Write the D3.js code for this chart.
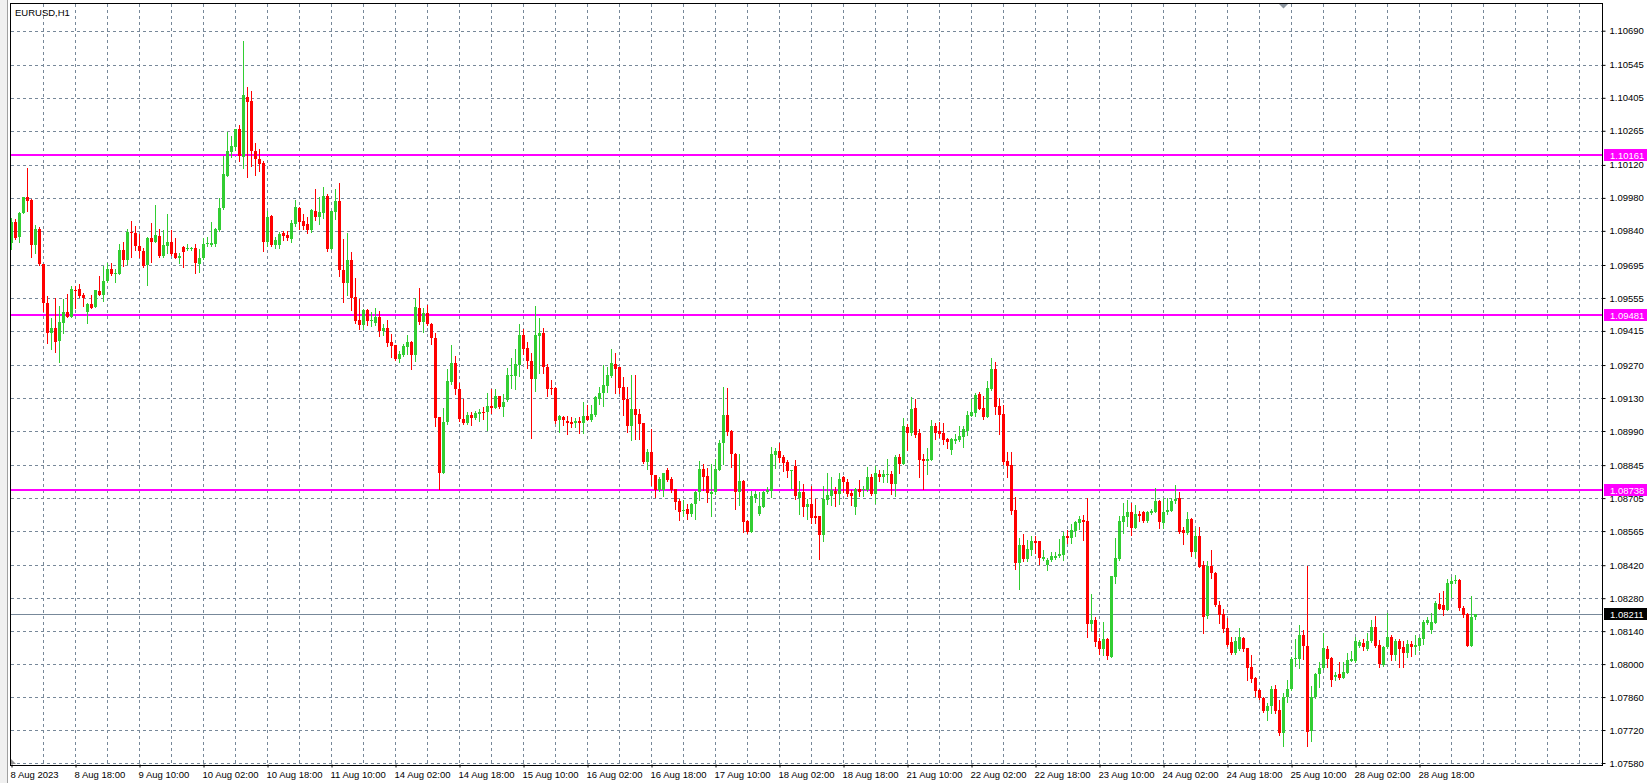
<!DOCTYPE html>
<html><head><meta charset="utf-8">
<script src="https://cdn.jsdelivr.net/npm/d3@7/dist/d3.min.js"></script>
<style>
body{margin:0;background:#fff;}
svg{display:block;}
text{font-family:"Liberation Sans",Arial,sans-serif;font-size:9.5px;}
</style>
</head><body>
<svg id="c" width="1647" height="783"></svg>
<script>
const symbolTitle = "EURUSD,H1";
const timeLabels = ["8 Aug 2023","8 Aug 18:00","9 Aug 10:00","10 Aug 02:00","10 Aug 18:00","11 Aug 10:00","14 Aug 02:00","14 Aug 18:00","15 Aug 10:00","16 Aug 02:00","16 Aug 18:00","17 Aug 10:00","18 Aug 02:00","18 Aug 18:00","21 Aug 10:00","22 Aug 02:00","22 Aug 18:00","23 Aug 10:00","24 Aug 02:00","24 Aug 18:00","25 Aug 10:00","28 Aug 02:00","28 Aug 18:00"];
const priceTicks = ["1.10690","1.10545","1.10405","1.10265","1.10120","1.09980","1.09840","1.09695","1.09555","1.09415","1.09270","1.09130","1.08990","1.08845","1.08705","1.08565","1.08420","1.08280","1.08140","1.08000","1.07860","1.07720","1.07580"];
const levelLines = [1.10161, 1.09481, 1.08738];
const bidPrice = 1.08211;

const opens = [
1.09787,1.09879,1.09812,1.09917,1.09982,1.09971,1.09780,1.09846,1.09698,1.09532,
1.09405,1.09426,1.09374,1.09450,1.09494,1.09476,1.09589,1.09592,1.09568,1.09497,
1.09529,1.09515,1.09585,1.09568,1.09627,1.09677,1.09657,1.09657,1.09759,1.09716,
1.09837,1.09829,1.09777,1.09755,1.09695,1.09810,1.09794,1.09818,1.09733,1.09777,
1.09794,1.09745,1.09726,1.09773,1.09762,1.09763,1.09769,1.09699,1.09723,1.09783,
1.09780,1.09784,1.09844,1.09936,1.10074,1.10176,1.10197,1.10272,1.10155,1.10407,
1.10391,1.10180,1.10145,1.10127,1.09794,1.09903,1.09780,1.09780,1.09829,1.09822,
1.09805,1.09869,1.09936,1.09882,1.09869,1.09844,1.09924,1.09900,1.09917,1.09988,
1.09763,1.09921,1.09967,1.09674,1.09620,1.09716,1.09558,1.09462,1.09440,1.09504,
1.09459,1.09447,1.09476,1.09416,1.09429,1.09370,1.09355,1.09296,1.09313,1.09348,
1.09367,1.09313,1.09511,1.09454,1.09490,1.09445,1.09384,1.09048,1.08811,1.09027,
1.09200,1.09278,1.09167,1.09040,1.09023,1.09057,1.09047,1.09064,1.09070,1.09070,
1.09096,1.09089,1.09139,1.09094,1.09122,1.09224,1.09225,1.09270,1.09398,1.09344,
1.09287,1.09211,1.09395,1.09408,1.09263,1.09173,1.09173,1.09037,1.09051,1.09033,
1.09029,1.09023,1.09034,1.09026,1.09054,1.09037,1.09058,1.09126,1.09153,1.09183,
1.09225,1.09275,1.09261,1.09176,1.09126,1.09013,1.09084,1.09062,1.09023,1.08857,
1.08900,1.08804,1.08740,1.08740,1.08825,1.08786,1.08743,1.08693,1.08651,1.08659,
1.08637,1.08679,1.08729,1.08828,1.08799,1.08721,1.08729,1.08825,1.08938,1.09058,
1.08992,1.08893,1.08733,1.08778,1.08608,1.08563,1.08707,1.08637,1.08669,1.08729,
1.08736,1.08888,1.08907,1.08881,1.08860,1.08818,1.08842,1.08707,1.08729,1.08669,
1.08680,1.08631,1.08627,1.08549,1.08697,1.08714,1.08737,1.08723,1.08794,1.08775,
1.08726,1.08669,1.08744,1.08740,1.08740,1.08796,1.08723,1.08808,1.08796,1.08804,
1.08808,1.08765,1.08881,1.08850,1.09006,1.08980,1.09087,1.08980,1.08871,1.08864,
1.08867,1.09012,1.08992,1.08980,1.08956,1.08910,1.08948,1.08952,1.08966,1.08992,
1.09055,1.09068,1.09147,1.09087,1.09051,1.09169,1.09254,1.09096,1.09062,1.08863,
1.08846,1.08655,1.08431,1.08506,1.08447,1.08485,1.08521,1.08521,1.08447,1.08419,
1.08440,1.08450,1.08457,1.08464,1.08545,1.08537,1.08567,1.08598,1.08612,1.08608,
1.08171,1.08188,1.08096,1.08065,1.08107,1.08032,1.08372,1.08447,1.08605,1.08624,
1.08644,1.08580,1.08637,1.08644,1.08608,1.08641,1.08645,1.08693,1.08601,1.08644,
1.08652,1.08693,1.08707,1.08570,1.08556,1.08615,1.08478,1.08545,1.08422,1.08206,
1.08417,1.08386,1.08252,1.08212,1.08153,1.08093,1.08046,1.08065,1.08110,1.08068,
1.07987,1.07940,1.07888,1.07855,1.07799,1.07820,1.07894,1.07806,1.07707,1.07860,
1.07894,1.08021,1.08022,1.08124,1.08078,1.07714,1.07860,1.07959,1.07983,1.08065,
1.08028,1.07947,1.07959,1.07943,1.07964,1.08015,1.08015,1.08079,1.08089,1.08065,
1.08096,1.08157,1.08082,1.07997,1.08072,1.08114,1.08037,1.08099,1.08072,1.08049,
1.08085,1.08072,1.08078,1.08107,1.08174,1.08143,1.08174,1.08254,1.08252,1.08230,
1.08341,1.08351,1.08358,1.08238,1.08212,1.08078,1.08199];

const highs = [
1.09893,1.09889,1.09921,1.09985,1.10105,1.09974,1.09863,1.09858,1.09698,1.09563,
1.09469,1.09556,1.09521,1.09549,1.09572,1.09607,1.09606,1.09613,1.09578,1.09532,
1.09568,1.09589,1.09648,1.09691,1.09702,1.09705,1.09677,1.09784,1.09794,1.09846,
1.09883,1.09861,1.09827,1.09766,1.09812,1.09875,1.09950,1.09846,1.09844,1.09911,
1.09844,1.09811,1.09747,1.09776,1.09783,1.09773,1.09783,1.09762,1.09808,1.09815,
1.09879,1.09853,1.09981,1.10158,1.10258,1.10243,1.10272,1.10289,1.10646,1.10449,
1.10434,1.10212,1.10187,1.10137,1.09924,1.09907,1.09815,1.09834,1.09839,1.09839,
1.09886,1.09971,1.09940,1.09911,1.09897,1.09933,1.10018,1.09982,1.10025,1.09996,
1.09924,1.10016,1.10042,1.09804,1.09829,1.09749,1.09638,1.09549,1.09507,1.09507,
1.09497,1.09511,1.09500,1.09443,1.09462,1.09402,1.09355,1.09331,1.09358,1.09398,
1.09372,1.09556,1.09599,1.09511,1.09525,1.09447,1.09405,1.09048,1.09089,1.09254,
1.09355,1.09309,1.09193,1.09125,1.09070,1.09072,1.09077,1.09082,1.09091,1.09150,
1.09169,1.09169,1.09139,1.09146,1.09256,1.09302,1.09337,1.09445,1.09422,1.09370,
1.09320,1.09522,1.09471,1.09426,1.09275,1.09207,1.09176,1.09058,1.09054,1.09054,
1.09051,1.09047,1.09051,1.09112,1.09101,1.09101,1.09140,1.09178,1.09270,1.09261,
1.09337,1.09320,1.09263,1.09218,1.09176,1.09228,1.09228,1.09082,1.09026,1.08914,
1.08997,1.08804,1.08796,1.08811,1.08832,1.08796,1.08743,1.08700,1.08697,1.08680,
1.08683,1.08736,1.08863,1.08849,1.08832,1.08849,1.08870,1.08952,1.09178,1.09174,
1.08995,1.08898,1.08893,1.08782,1.08612,1.08736,1.08736,1.08729,1.08736,1.08754,
1.08920,1.08917,1.08938,1.08886,1.08867,1.08825,1.08867,1.08779,1.08765,1.08702,
1.08757,1.08700,1.08627,1.08757,1.08813,1.08794,1.08754,1.08811,1.08799,1.08786,
1.08740,1.08746,1.08782,1.08757,1.08839,1.08808,1.08842,1.08825,1.08825,1.08871,
1.08821,1.08886,1.08893,1.09044,1.09020,1.09133,1.09125,1.08997,1.08893,1.08917,
1.09037,1.09023,1.09030,1.09023,1.08959,1.08962,1.08976,1.09012,1.09012,1.09077,
1.09126,1.09153,1.09157,1.09139,1.09203,1.09299,1.09282,1.09132,1.09101,1.08900,
1.08900,1.08709,1.08537,1.08553,1.08528,1.08546,1.08545,1.08521,1.08485,1.08450,
1.08475,1.08478,1.08532,1.08559,1.08570,1.08596,1.08608,1.08629,1.08634,1.08707,
1.08298,1.08202,1.08110,1.08178,1.08110,1.08375,1.08535,1.08627,1.08683,1.08697,
1.08683,1.08676,1.08652,1.08652,1.08651,1.08658,1.08750,1.08697,1.08704,1.08704,
1.08707,1.08761,1.08729,1.08581,1.08644,1.08622,1.08580,1.08581,1.08436,1.08436,
1.08485,1.08393,1.08266,1.08233,1.08195,1.08117,1.08117,1.08153,1.08117,1.08068,
1.08040,1.07945,1.07894,1.07862,1.07834,1.07909,1.07912,1.07846,1.07877,1.07933,
1.08032,1.08106,1.08167,1.08146,1.08417,1.07908,1.07962,1.08011,1.08131,1.08078,
1.08032,1.07966,1.08007,1.08007,1.08046,1.08054,1.08117,1.08103,1.08106,1.08131,
1.08188,1.08205,1.08103,1.08078,1.08216,1.08124,1.08106,1.08106,1.08099,1.08103,
1.08099,1.08124,1.08114,1.08188,1.08202,1.08216,1.08266,1.08301,1.08312,1.08362,
1.08372,1.08379,1.08361,1.08245,1.08216,1.08291,1.08214];

const lows = [
1.09762,1.09804,1.09794,1.09914,1.09924,1.09730,1.09745,1.09695,1.09501,1.09362,
1.09337,1.09327,1.09285,1.09405,1.09473,1.09476,1.09514,1.09558,1.09521,1.09450,
1.09511,1.09515,1.09566,1.09544,1.09624,1.09653,1.09624,1.09657,1.09692,1.09699,
1.09730,1.09759,1.09730,1.09688,1.09610,1.09709,1.09791,1.09728,1.09730,1.09745,
1.09737,1.09723,1.09702,1.09688,1.09759,1.09759,1.09662,1.09667,1.09719,1.09776,
1.09777,1.09777,1.09841,1.09933,1.10074,1.10152,1.10183,1.10138,1.10105,1.10070,
1.10115,1.10077,1.10095,1.09756,1.09777,1.09776,1.09769,1.09769,1.09801,1.09801,
1.09791,1.09862,1.09846,1.09846,1.09832,1.09834,1.09886,1.09868,1.09893,1.09756,
1.09763,1.09889,1.09648,1.09539,1.09568,1.09504,1.09450,1.09422,1.09422,1.09440,
1.09436,1.09440,1.09394,1.09398,1.09351,1.09306,1.09292,1.09282,1.09310,1.09317,
1.09254,1.09289,1.09445,1.09412,1.09440,1.09360,1.09013,1.08743,1.08811,1.09019,
1.09190,1.09146,1.09033,1.09020,1.09020,1.09016,1.09040,1.09033,1.09040,1.08995,
1.09068,1.09087,1.09087,1.09054,1.09119,1.09171,1.09169,1.09225,1.09317,1.09259,
1.08962,1.09160,1.09235,1.09238,1.09139,1.09147,1.09026,1.08985,1.09016,1.08978,
1.09009,1.09009,1.08983,1.08983,1.09037,1.09034,1.09055,1.09103,1.09098,1.09157,
1.09218,1.09150,1.09150,1.09058,1.08987,1.08952,1.08956,1.08956,1.08853,1.08829,
1.08761,1.08709,1.08737,1.08712,1.08779,1.08729,1.08658,1.08610,1.08631,1.08617,
1.08631,1.08617,1.08695,1.08740,1.08690,1.08631,1.08723,1.08825,1.08850,1.08971,
1.08836,1.08659,1.08676,1.08563,1.08556,1.08563,1.08690,1.08634,1.08666,1.08726,
1.08709,1.08832,1.08860,1.08818,1.08794,1.08747,1.08702,1.08638,1.08631,1.08617,
1.08598,1.08598,1.08445,1.08523,1.08680,1.08676,1.08673,1.08679,1.08730,1.08714,
1.08676,1.08638,1.08712,1.08712,1.08737,1.08719,1.08683,1.08779,1.08775,1.08775,
1.08721,1.08716,1.08813,1.08850,1.08910,1.08973,1.08966,1.08796,1.08744,1.08808,
1.08867,1.08956,1.08963,1.08935,1.08917,1.08893,1.08941,1.08948,1.08924,1.08971,
1.09054,1.09054,1.09082,1.09040,1.09048,1.09164,1.09061,1.08978,1.08850,1.08796,
1.08638,1.08403,1.08320,1.08436,1.08436,1.08464,1.08471,1.08426,1.08443,1.08398,
1.08436,1.08446,1.08454,1.08440,1.08514,1.08514,1.08542,1.08574,1.08528,1.08114,
1.08146,1.08078,1.08044,1.08040,1.08021,1.08029,1.08344,1.08443,1.08556,1.08587,
1.08549,1.08577,1.08608,1.08605,1.08605,1.08638,1.08645,1.08580,1.08580,1.08638,
1.08651,1.08683,1.08556,1.08511,1.08552,1.08460,1.08454,1.08412,1.08134,1.08195,
1.08365,1.08247,1.08174,1.08136,1.08075,1.08044,1.08044,1.08061,1.08054,1.07933,
1.07922,1.07865,1.07851,1.07795,1.07761,1.07792,1.07792,1.07700,1.07654,1.07841,
1.07891,1.07990,1.07983,1.08022,1.07654,1.07674,1.07858,1.07901,1.07980,1.07986,
1.07908,1.07933,1.07938,1.07940,1.07962,1.08014,1.08011,1.08072,1.08058,1.08061,
1.08093,1.08071,1.07987,1.07993,1.08068,1.08018,1.08018,1.07986,1.07986,1.08032,
1.08035,1.08044,1.08058,1.08086,1.08171,1.08134,1.08174,1.08233,1.08209,1.08228,
1.08287,1.08344,1.08230,1.08202,1.08075,1.08078,1.08192];

const closes = [
1.09879,1.09811,1.09917,1.09982,1.09968,1.09780,1.09846,1.09698,1.09532,1.09405,
1.09426,1.09370,1.09454,1.09494,1.09476,1.09592,1.09585,1.09564,1.09556,1.09529,
1.09514,1.09589,1.09568,1.09627,1.09677,1.09657,1.09660,1.09759,1.09716,1.09837,
1.09829,1.09777,1.09756,1.09691,1.09810,1.09794,1.09822,1.09735,1.09780,1.09794,
1.09742,1.09726,1.09735,1.09752,1.09769,1.09769,1.09702,1.09726,1.09783,1.09787,
1.09787,1.09846,1.09936,1.10081,1.10179,1.10200,1.10272,1.10158,1.10417,1.10388,
1.10180,1.10144,1.10124,1.09794,1.09897,1.09780,1.09801,1.09827,1.09818,1.09808,
1.09872,1.09940,1.09879,1.09861,1.09844,1.09928,1.09897,1.09919,1.09988,1.09763,
1.09924,1.09967,1.09674,1.09620,1.09716,1.09554,1.09459,1.09440,1.09504,1.09459,
1.09462,1.09476,1.09415,1.09426,1.09365,1.09351,1.09295,1.09317,1.09351,1.09367,
1.09313,1.09515,1.09454,1.09490,1.09445,1.09384,1.09047,1.08811,1.09027,1.09203,
1.09278,1.09167,1.09040,1.09023,1.09057,1.09047,1.09065,1.09071,1.09067,1.09096,
1.09089,1.09139,1.09091,1.09115,1.09228,1.09228,1.09273,1.09398,1.09338,1.09287,
1.09211,1.09398,1.09408,1.09263,1.09169,1.09169,1.09034,1.09054,1.09037,1.09023,
1.09020,1.09033,1.09026,1.09054,1.09037,1.09062,1.09133,1.09153,1.09186,1.09228,
1.09278,1.09254,1.09174,1.09122,1.09013,1.09084,1.09058,1.09020,1.08857,1.08900,
1.08801,1.08740,1.08786,1.08811,1.08782,1.08740,1.08690,1.08648,1.08655,1.08637,
1.08680,1.08730,1.08828,1.08796,1.08726,1.08730,1.08828,1.08941,1.09058,1.08987,
1.08891,1.08729,1.08778,1.08605,1.08563,1.08714,1.08723,1.08673,1.08730,1.08740,
1.08893,1.08907,1.08877,1.08853,1.08818,1.08825,1.08712,1.08729,1.08669,1.08680,
1.08622,1.08622,1.08549,1.08700,1.08719,1.08740,1.08723,1.08786,1.08775,1.08721,
1.08716,1.08743,1.08733,1.08744,1.08796,1.08723,1.08811,1.08796,1.08808,1.08808,
1.08765,1.08881,1.08850,1.09012,1.08983,1.09084,1.08971,1.08867,1.08864,1.08871,
1.09012,1.08980,1.08978,1.08952,1.08945,1.08956,1.08956,1.08969,1.08997,1.09058,
1.09072,1.09143,1.09084,1.09051,1.09171,1.09254,1.09094,1.09058,1.08860,1.08843,
1.08651,1.08431,1.08506,1.08447,1.08489,1.08521,1.08516,1.08450,1.08453,1.08443,
1.08457,1.08460,1.08468,1.08545,1.08537,1.08570,1.08603,1.08617,1.08603,1.08171,
1.08188,1.08092,1.08065,1.08107,1.08035,1.08375,1.08450,1.08608,1.08627,1.08644,
1.08580,1.08637,1.08627,1.08608,1.08644,1.08651,1.08693,1.08605,1.08644,1.08655,
1.08693,1.08702,1.08560,1.08556,1.08615,1.08478,1.08545,1.08414,1.08202,1.08417,
1.08386,1.08249,1.08209,1.08150,1.08082,1.08046,1.08096,1.08114,1.08065,1.07983,
1.07936,1.07884,1.07855,1.07799,1.07823,1.07894,1.07799,1.07707,1.07860,1.07894,
1.08022,1.08025,1.08124,1.08075,1.07710,1.07862,1.07959,1.07983,1.08068,1.08022,
1.07933,1.07954,1.07943,1.07966,1.08018,1.08021,1.08096,1.08092,1.08071,1.08099,
1.08157,1.08079,1.08001,1.08072,1.08114,1.08037,1.08099,1.08063,1.08049,1.08085,
1.08072,1.08082,1.08110,1.08177,1.08188,1.08177,1.08259,1.08235,1.08230,1.08346,
1.08354,1.08358,1.08238,1.08209,1.08078,1.08199,1.08211];

// ---------- drawing ----------
const W = 1647, H = 783;
const P = {left: 10, top: 3, right: 1603, bottom: 765};
const GRID = "#778899", BULL = "#32cd32", BEAR = "#ff0000", LEVEL = "#ff00ff";

const bars = d3.range(opens.length);
const x = d3.scaleLinear().domain([0, 8]).range([11.5, 43.5]);   // bar index -> centre
const y = d3.scaleLinear().domain([1.07580, 1.10690]).range([763.0, 30.7]);
const snap = v => Math.round(v) + 0.5;

const svg = d3.select("#c");

// window strip on the left
svg.append("rect").attr("x", 0).attr("y", 0).attr("width", 7).attr("height", H).attr("fill", "#f0f0f0");
svg.append("line").attr("x1", 7.5).attr("x2", 7.5).attr("y1", 0).attr("y2", H).attr("stroke", "#a0a0a0");

svg.append("defs").append("clipPath").attr("id", "plot")
  .append("rect").attr("x", P.left + 1).attr("y", P.top + 1)
  .attr("width", P.right - P.left - 1).attr("height", P.bottom - P.top - 1);

const g = svg.append("g").attr("clip-path", "url(#plot)");

// horizontal grid
const tickVals = priceTicks.map(Number);
g.append("g").selectAll("line").data(tickVals).join("line")
  .attr("x1", P.left + 1).attr("x2", P.right)
  .attr("y1", d => snap(y(d))).attr("y2", d => snap(y(d)))
  .attr("stroke", GRID).attr("stroke-dasharray", "3,3");

// vertical grid every 8 bars
const vGrid = d3.range(8, 400, 8).filter(i => x(i) < P.right - 1);
g.append("g").selectAll("line").data(vGrid).join("line")
  .attr("x1", d => x(d)).attr("x2", d => x(d))
  .attr("y1", P.top + 1).attr("y2", P.bottom)
  .attr("stroke", GRID).attr("stroke-dasharray", "3,3");

// horizontal level lines
g.append("g").selectAll("line").data(levelLines).join("line")
  .attr("x1", P.left).attr("x2", P.right)
  .attr("y1", d => Math.round(y(d))).attr("y2", d => Math.round(y(d)))
  .attr("stroke", LEVEL).attr("stroke-width", 2);

// bid line
g.append("line").attr("x1", P.left).attr("x2", P.right)
  .attr("y1", snap(y(bidPrice))).attr("y2", snap(y(bidPrice)))
  .attr("stroke", GRID);

// candles
const col = i => closes[i] >= opens[i] ? BULL : BEAR;
const cg = g.append("g");
cg.selectAll("line.w").data(bars).join("line").attr("class", "w")
  .attr("x1", i => x(i)).attr("x2", i => x(i))
  .attr("y1", i => Math.round(y(highs[i]))).attr("y2", i => Math.round(y(lows[i])) + 1)
  .attr("stroke", col);
cg.selectAll("rect").data(bars).join("rect")
  .attr("x", i => x(i) - 1.5).attr("width", 3)
  .attr("y", i => Math.round(y(Math.max(opens[i], closes[i]))))
  .attr("height", i => Math.max(1, Math.round(y(Math.min(opens[i], closes[i]))) - Math.round(y(Math.max(opens[i], closes[i])))))
  .attr("fill", col);

// frame
svg.append("rect").attr("x", P.left + 0.5).attr("y", P.top + 0.5)
  .attr("width", P.right - P.left - 1).attr("height", P.bottom - P.top)
  .attr("fill", "none").attr("stroke", "#000");

// price axis
const ya = svg.append("g").attr("transform", `translate(${P.right - 0.5},0)`)
  .call(d3.axisRight(y).tickValues(tickVals).tickFormat((d, i) => priceTicks[i]).tickSize(3).tickPadding(4));
ya.select(".domain").remove();
ya.selectAll("line").attr("stroke", "#000");
ya.selectAll("text").attr("fill", "#000").style("font-size", "9.5px").attr("font-family", null);

// time axis
const xa = svg.append("g").attr("transform", `translate(0,${P.bottom - 0.5})`)
  .call(d3.axisBottom(x).tickValues(timeLabels.map((t, k) => k * 16))
    .tickFormat((d, k) => timeLabels[k]).tickSize(3));
xa.select(".domain").remove();
xa.selectAll("line").attr("stroke", "#000");
xa.selectAll("text").attr("text-anchor", "start").attr("x", -1.5).attr("y", 13.5).attr("dy", 0)
  .attr("fill", "#000").style("font-size", "9.5px").attr("font-family", null);

// level price boxes
const boxes = levelLines.map(v => ({v, fill: LEVEL})).concat([{v: bidPrice, fill: "#000"}]);
const bg = svg.append("g");
bg.selectAll("rect").data(boxes).join("rect")
  .attr("x", P.right + 1).attr("width", W - P.right - 1)
  .attr("y", d => Math.round(y(d.v)) - 6).attr("height", 12).attr("fill", d => d.fill);
bg.selectAll("text").data(boxes).join("text")
  .attr("x", P.right + 7).attr("y", d => Math.round(y(d.v)) + 3.5)
  .attr("fill", "#fff").text(d => d.v.toFixed(5));

// title
svg.append("text").attr("x", 15).attr("y", 15.5).attr("fill", "#000").text(symbolTitle);

// chart-shift marker and scale marker
svg.append("path").attr("d", "M1279,4 L1288,4 L1283.5,8.5 Z").attr("fill", "#8c96a0");
svg.append("path").attr("d", "M11,759 L11,764 L16,764 Z").attr("fill", "#909090");
</script>
</body></html>
